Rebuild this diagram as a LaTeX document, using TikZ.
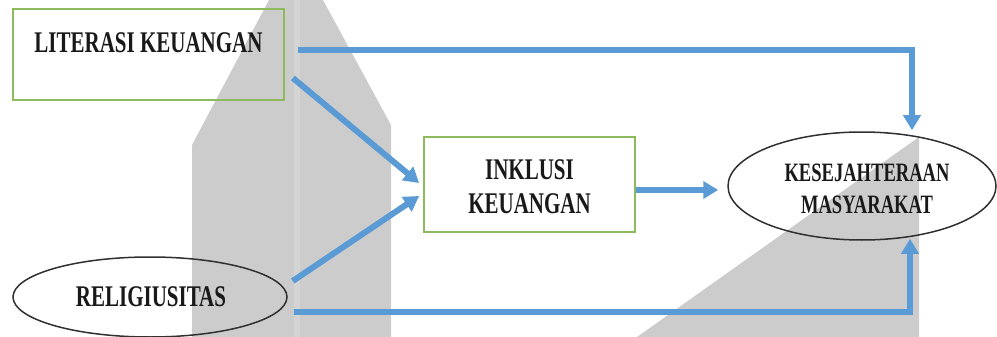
\documentclass[tikz,border=0pt]{standalone}
\usepackage{fontspec}
\setmainfont{Liberation Serif}
\newfontfamily\tnrb[FakeStretch=0.7]{Liberation Serif Bold}
\usetikzlibrary{shapes.geometric,arrows.meta,calc}
\definecolor{arrblue}{HTML}{5B9BD5}
\definecolor{boxgreen}{HTML}{8CBA5C}
\definecolor{bggray}{HTML}{CCCCCC}
\definecolor{bggraylt}{HTML}{D4D4D4}
\definecolor{ellgray}{HTML}{303030}
\tikzset{
  greenbox/.style={draw=boxgreen, line width=1.8pt, rectangle, inner sep=0pt},
  ovalnode/.style={draw=ellgray, line width=1.5pt, ellipse, inner sep=0pt},
  lbl/.style={font=\tnrb\fontsize{30}{34}\selectfont, align=center, text=black!90},
  lblsmall/.style={font=\tnrb\fontsize{26.5}{32}\selectfont, align=center, text=black!90},
  arr/.style={draw=arrblue, line width=6pt, -{Triangle[length=15pt,width=17pt]}}
}
\begin{document}
\begin{tikzpicture}[x=1pt,y=-1pt]
\useasboundingbox (0,0) rectangle (997,337);
% background gray shapes
\fill[bggray] (269,0) -- (323,0) -- (391,125) -- (391,337) -- (192,337) -- (192,145) -- cycle;
\fill[bggraylt] (294,0) rectangle (300,337);
\fill[bggray] (919,137) -- (919,337) -- (637,337) -- cycle;
% nodes
\node[greenbox, minimum width=271pt, minimum height=91pt,
      label={[lbl, yshift=11.5pt]center:LITERASI KEUANGAN}] (lit) at (148.5,54.5) {};
\node[ovalnode, minimum width=274pt, minimum height=80pt] (rel) at (150,297) {};
\node[lbl] at ($(rel.center)+(1,0)$) {RELIGIUSITAS};
\node[greenbox, minimum width=211pt, minimum height=95pt] (ink) at (529.5,184.5) {};
\node[lbl] at ($(ink.center)+(0,2)$) {INKLUSI\\KEUANGAN};
\node[ovalnode, minimum width=268pt, minimum height=108pt] (kes) at (862,186) {};
\node[lblsmall] at ($(kes.center)+(5,3)$) {KESEJAHTERAAN\\MASYARAKAT};
% connectors
\draw[arr] ($(lit.east)+(13,-4.5)$) -| ($(kes.north)+(50,-1)$);
\draw[arr] ($(lit.east)+(8,23.5)$) -- ($(ink.west)+(-4,-1.5)$);
\draw[arr] ($(rel.east)+(5,-16)$) -- ($(ink.west)+(-4,11.5)$);
\draw[arr] ($(ink.east)+(0,5.5)$) -- ($(kes.west)+(-9,4)$);
\draw[arr] ($(rel.east)+(6,15)$) -| ($(kes.south)+(48,-2)$);
\end{tikzpicture}
\end{document}
